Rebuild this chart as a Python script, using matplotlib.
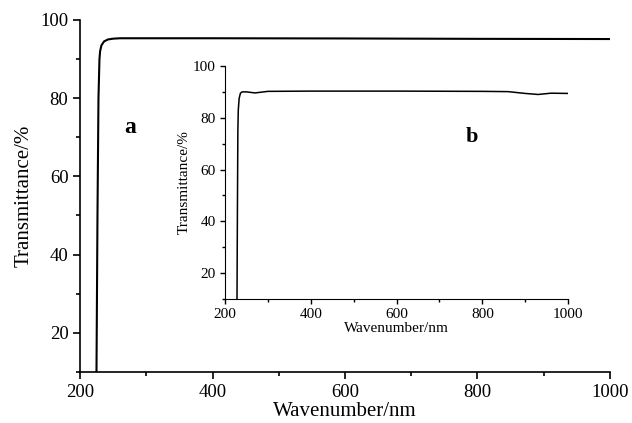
import matplotlib.pyplot as plt
from matplotlib.ticker import MultipleLocator

plt.rcParams["font.family"] = ["Liberation Serif", "DejaVu Serif"]

# main spectrum (a)
wl_a = [224.5, 226, 227.5, 229, 230, 232, 236, 242, 250, 260, 280, 400, 600, 800, 1000]
tr_a = [10, 50, 80, 90, 92, 93.5, 94.5, 95, 95.2, 95.3, 95.3, 95.3, 95.25, 95.15, 95.1]

# inset spectrum (b)
wl_b = [228, 229, 230, 231, 233, 236, 240, 250, 260, 270, 280, 300, 400, 600,
        800, 860, 900, 930, 960, 1000]
tr_b = [10, 45, 75, 83, 87.5, 89.5, 90, 90, 89.8, 89.6, 89.8, 90.2, 90.3, 90.3,
        90.2, 90.1, 89.4, 89.0, 89.5, 89.4]

fig = plt.figure(figsize=(6.32, 4.23), dpi=100)

ax = fig.add_axes([0.127, 0.121, 0.838, 0.832])
ax.plot(wl_a, tr_a, color="black", lw=1.5)
ax.set_xlim(200, 1000)
ax.set_ylim(10, 100)
ax.xaxis.set_major_locator(MultipleLocator(200))
ax.xaxis.set_minor_locator(MultipleLocator(100))
ax.set_yticks([20, 40, 60, 80, 100])
ax.yaxis.set_minor_locator(MultipleLocator(10))
ax.spines["top"].set_visible(False)
ax.spines["right"].set_visible(False)
for s in ("left", "bottom"):
    ax.spines[s].set_linewidth(1.2)
ax.tick_params(which="major", direction="out", length=5, width=1.2, labelsize=13.5)
ax.tick_params(which="minor", direction="out", length=3, width=1.2)
ax.set_xlabel("Wavenumber/nm", fontsize=15, labelpad=1)
ax.set_ylabel("Transmittance/%", fontsize=15, labelpad=5)
ax.text(275, 72.5, "a", fontsize=17, fontweight="bold", ha="center", va="center")

ins = fig.add_axes([0.356, 0.293, 0.543, 0.551])
ins.plot(wl_b, tr_b, color="black", lw=1.1)
ins.set_xlim(200, 1000)
ins.set_ylim(10, 100)
ins.xaxis.set_major_locator(MultipleLocator(200))
ins.xaxis.set_minor_locator(MultipleLocator(100))
ins.set_yticks([20, 40, 60, 80, 100])
ins.yaxis.set_minor_locator(MultipleLocator(10))
ins.spines["top"].set_visible(False)
ins.spines["right"].set_visible(False)
ins.patch.set_alpha(0)
ins.tick_params(which="major", direction="out", length=3.5, width=1, labelsize=11, pad=3)
ins.tick_params(which="minor", direction="out", length=2, width=1)
ins.set_xlabel("Wavenumber/nm", fontsize=11, labelpad=1)
ins.set_ylabel("Transmittance/%", fontsize=11, labelpad=2)
ins.text(776, 72.5, "b", fontsize=16, fontweight="bold", ha="center", va="center")

fig.savefig("out.png", dpi=100)
